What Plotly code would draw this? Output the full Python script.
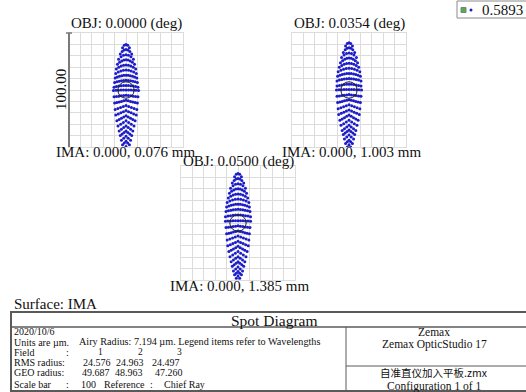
import numpy as np
import plotly.graph_objects as go

W, H = 526, 392

# ---- field / wavelength data -------------------------------------------
field_angles = ["0.0000", "0.0354", "0.0500"]          # OBJ (deg)
image_heights = ["0.000, 0.076", "0.000, 1.003", "0.000, 1.385"]  # IMA (mm)
wavelength = "0.5893"
airy_radius = 7.194            # µm
scale_bar = 100                # µm, full box width
rms_radius = [24.576, 24.963, 24.497]
geo_radius = [49.687, 48.963, 47.260]

# Spot rows (µm, relative to chief ray): row height, half-width of the row,
# sag of the row ends and number of rays on each row.
row_y_f1 = [40, 35.5, 31, 26.5, 22, 17.5, 13, 8.5, 4, 0, -4.5, -9, -13.5,
            -18, -22.5, -27, -31.5, -36, -40.5, -45, -49.5]
row_y_f2 = [41.5, 37, 32.5, 28, 23.5, 19, 14.5, 10, 5, 0.5, -4, -8.5, -13,
            -17.5, -22, -26.5, -31, -35, -39.5, -44, -48]
row_y_f3 = [43.5, 39, 34.5, 30, 25.5, 21, 16.5, 12, 7, 2, -2.5, -7, -11.5,
            -16, -20.5, -25, -29.5, -34, -38.5, -42.5, -46.5]
row_half_f1 = [3, 5, 6.5, 7.5, 8.5, 9, 9.5, 10, 10.5, 11, 10.5, 10, 9.5, 9,
               8, 7, 6, 5, 4, 3, 1.5]
row_half_f2 = [3, 5, 6.5, 7.5, 8.5, 9.5, 10, 10.5, 10.5, 11, 10.5, 10, 9.5,
               9, 8, 7, 6, 5, 4, 3, 1.5]
row_half_f3 = [3, 5, 6.5, 7.5, 8.5, 9.5, 10, 10.5, 11, 11, 10.5, 10, 9.5, 9,
               8, 7, 6, 5, 4, 3, 1.5]
row_sag = [3, 4, 4, 4, 3.5, 3, 2.5, 2, 1.5, 0.5, 1.5, 2.5, 3.5, 4, 4.5, 4.5,
           4.5, 4, 3.5, 3, 2]
row_shape = [2, 2, 2, 2, 2, 2, 2, 2, 2, 2, 1, 1, 1, 1, 1, 1, 1, 1, 1, 1, 1]
row_rays = [5, 7, 7, 9, 9, 9, 11, 11, 11, 11, 11, 11, 9, 9, 9, 7, 7, 7,
            5, 5, 3]

fields = [(row_y_f1, row_half_f1), (row_y_f2, row_half_f2), (row_y_f3, row_half_f3)]

# box positions in pixels (left, top, size)
boxes = [(69, 33, 114), (292, 33, 114), (181, 166, 114)]

SPOT = "#1c1cc8"
GRID = "#dcdcdc"
SERIF = "Liberation Serif, Times New Roman, serif"


def px(x):
    return x / W


def py(y):
    return 1 - y / H


fig = go.Figure()
layout_axes = {}
shapes = []
annotations = []

for i, ((ry, rh), (bl, bt, bs)) in enumerate(zip(fields, boxes)):
    xs, ys = [], []
    for y0, hw, sag, shp, n in zip(ry, rh, row_sag, row_shape, row_rays):
        u = np.linspace(-1, 1, n)
        xs.extend(hw * u)
        ys.extend(y0 - sag * np.abs(u) ** shp)
    suffix = "" if i == 0 else str(i + 1)
    fig.add_trace(go.Scatter(
        x=xs, y=ys, mode="markers", xaxis="x" + suffix, yaxis="y" + suffix,
        marker=dict(size=3.0, color=SPOT, line=dict(width=0)),
        showlegend=False, hoverinfo="skip"))
    ax = dict(range=[-scale_bar / 2, scale_bar / 2], dtick=10, tick0=0,
              showticklabels=False, ticks="", showgrid=True, gridcolor=GRID,
              gridwidth=1, zeroline=False, showline=True, linecolor=GRID,
              linewidth=1, mirror=True, fixedrange=True)
    layout_axes["xaxis" + suffix] = dict(ax, domain=[px(bl), px(bl + bs)],
                                         anchor="y" + suffix)
    layout_axes["yaxis" + suffix] = dict(ax, domain=[py(bt + bs), py(bt)],
                                         anchor="x" + suffix)
    # Airy disk
    shapes.append(dict(type="circle", xref="x" + suffix, yref="y" + suffix,
                       x0=-airy_radius, x1=airy_radius,
                       y0=-airy_radius, y1=airy_radius,
                       line=dict(color="#202020", width=1)))

# scale bar on the first box
shapes.append(dict(type="line", xref="paper", yref="paper",
                   x0=px(69), x1=px(69), y0=py(147), y1=py(33),
                   line=dict(color="#7a7a7a", width=2)))
shapes.append(dict(type="line", xref="paper", yref="paper",
                   x0=px(66), x1=px(72), y0=py(33), y1=py(33),
                   line=dict(color="#7a7a7a", width=1.5)))


def ann(text, x, y, size, xanchor="center", angle=0, family=SERIF):
    annotations.append(dict(text=text, x=px(x), y=py(y), xref="paper",
                            yref="paper", showarrow=False, xanchor=xanchor,
                            yanchor="middle", textangle=angle, borderpad=0,
                            font=dict(family=family, size=size, color="#111111")))


ann(f"{scale_bar:.2f}", 61, 90, 15, angle=-90)

obj_pos = [(126, 24), (349, 24), (238, 161)]
ima_pos = [(126, 152), (352, 152), (240, 286)]
for a, (x, y) in zip(field_angles, obj_pos):
    ann(f"OBJ: {a} (deg)", x, y, 15)
for h, (x, y) in zip(image_heights, ima_pos):
    ann(f"IMA: {h} mm", x, y, 15)

# wavelength key
shapes.append(dict(type="rect", xref="paper", yref="paper",
                   x0=px(457), x1=px(540), y0=py(18), y1=py(1),
                   line=dict(color="#8a8a8a", width=1), fillcolor="white"))
shapes.append(dict(type="rect", xref="paper", yref="paper",
                   x0=px(461), x1=px(466), y0=py(12.5), y1=py(7.5),
                   line=dict(color="#808080", width=1), fillcolor="#4caf50"))
shapes.append(dict(type="circle", xref="paper", yref="paper",
                   x0=px(469.5), x1=px(472.5), y0=py(11.5), y1=py(8.5),
                   line=dict(width=0), fillcolor=SPOT))
ann(wavelength, 481, 10, 15, xanchor="left")

# footer
ann("Surface: IMA", 13, 304, 15, xanchor="left")

TBL = "#5a5a5a"
shapes.append(dict(type="rect", xref="paper", yref="paper",
                   x0=px(11), x1=px(545), y0=py(391), y1=py(312),
                   line=dict(color=TBL, width=2)))
shapes.append(dict(type="line", xref="paper", yref="paper",
                   x0=px(11), x1=px(545), y0=py(327), y1=py(327),
                   line=dict(color=TBL, width=1.5)))
shapes.append(dict(type="line", xref="paper", yref="paper",
                   x0=px(346), x1=px(346), y0=py(391), y1=py(327),
                   line=dict(color=TBL, width=1)))
shapes.append(dict(type="line", xref="paper", yref="paper",
                   x0=px(346), x1=px(545), y0=py(366), y1=py(366),
                   line=dict(color=TBL, width=1)))

ann("Spot Diagram", 274, 320, 15.5)

SM = 10
ann("2020/10/6", 13, 331, SM, xanchor="left")
ann("Units are µm.", 13, 342, SM, xanchor="left")
ann(f"Airy Radius: {airy_radius:.3f} µm. Legend items refer to Wavelengths",
    78, 341.5, 10.2, xanchor="left")
ann("Field", 13, 352, SM, xanchor="left")
ann(":", 67, 352, SM)
for k, xc in zip(range(1, 4), [100, 140, 179]):
    ann(str(k), xc, 352, 9.5)
ann("RMS radius:", 13, 362.5, SM, xanchor="left")
for v, xc in zip(rms_radius, [97, 130, 166]):
    ann(f"{v:.3f}", xc, 362.5, SM)
ann("GEO radius:", 13, 372.5, SM, xanchor="left")
for v, xc in zip(geo_radius, [96, 129, 169]):
    ann(f"{v:.3f}", xc, 372.5, SM)
ann("Scale bar", 13, 384.5, SM, xanchor="left")
ann(":", 67, 384.5, SM)
ann(str(scale_bar), 88, 384.5, SM)
ann("Reference", 103, 384.5, SM, xanchor="left")
ann(":", 152, 384.5, SM)
ann("Chief Ray", 163, 384.5, SM, xanchor="left")

ann("Zemax", 434, 332, 11.5)
ann("Zemax OpticStudio 17", 434, 344, 11.5)
ann("自准直仪加入平板.zmx", 434, 372.5, 10.5,
    family="Noto Sans CJK SC, " + SERIF)
ann("Configuration 1 of 1", 434, 386, 11.5)

fig.update_layout(
    width=W, height=H, margin=dict(l=0, r=0, t=0, b=0),
    paper_bgcolor="white", plot_bgcolor="white",
    shapes=shapes, annotations=annotations, **layout_axes)

fig.write_html("out.html")
